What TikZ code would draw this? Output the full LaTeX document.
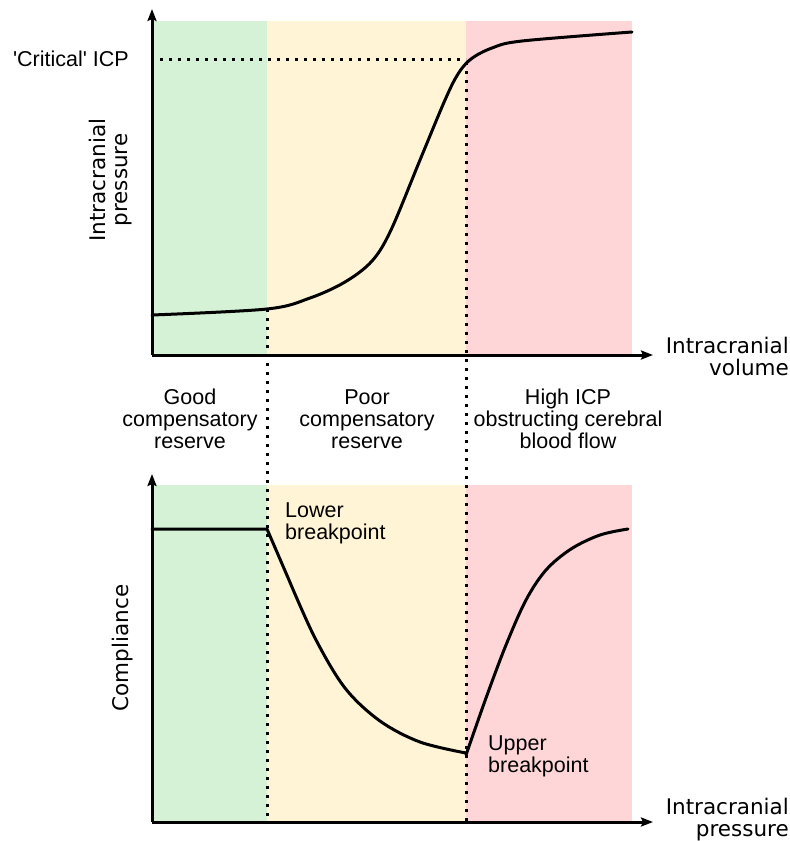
\documentclass[tikz,border=0pt]{standalone}
\usepackage{fontspec}
\setmainfont{Liberation Sans}
\newfontfamily\axfont{DejaVu Sans}
\usetikzlibrary{arrows.meta}
\definecolor{zgreen}{RGB}{214,242,214}
\definecolor{zyellow}{RGB}{255,245,214}
\definecolor{zred}{RGB}{255,214,216}
\tikzset{
  axis/.style={line width=3pt,-{Stealth[length=12pt,width=9pt,inset=2pt]}},
  curve/.style={line width=3pt,line join=round,line cap=round},
  dotline/.style={line width=3pt,dash pattern=on 3pt off 6pt},
  lbl/.style={font=\fontsize{21.5}{22}\selectfont,align=center,inner sep=0pt},
  axlbl/.style={font=\axfont\fontsize{21.5}{22}\selectfont,align=center,inner sep=0pt},
}
\begin{document}
\begin{tikzpicture}[x=1pt,y=-1pt]
\useasboundingbox (0,0) rectangle (790,841);
% top chart backgrounds
\fill[zgreen] (152,21) rectangle (267,355);
\fill[zyellow] (267,21) rectangle (466,355);
\fill[zred] (466,21) rectangle (632,355);
% bottom chart backgrounds
\fill[zgreen] (152,485) rectangle (267,822);
\fill[zyellow] (267,485) rectangle (466,822);
\fill[zred] (466,485) rectangle (632,822);
% coordinates
\coordinate (o1) at (152,355);
\coordinate (y1) at (152,9);
\coordinate (x1) at (653,355);
\coordinate (o2) at (152,822);
\coordinate (y2) at (152,474);
\coordinate (x2) at (653,822);
\coordinate (crit0) at (160,59);
\coordinate (crit1) at (466,59);
\coordinate (lbA) at (267,309);
\coordinate (lbB) at (267,822);
\coordinate (ubA) at (466,62);
\coordinate (ubB) at (466,822);
% dotted lines
\draw[dotline] (crit0) -- (crit1);
\draw[dotline] (lbA) -- (lbB);
\draw[dotline] (ubA) -- (ubB);
% top curve
\draw[curve] plot[smooth,tension=0.55] coordinates {(152,315) (267,309) (310,298) (345,282) (372,261) (391,230) (420,160) (445,100) (458,74) (471,59) (492,48) (522,41) (632,32)};
% bottom curve
\draw[curve] (152,529) -- (267,529) -- (289,580) plot[smooth,tension=0.55] coordinates {(289,580) (315,638) (345,688) (380,721) (420,742) (466,753)};
\draw[curve] plot[smooth,tension=0.55] coordinates {(466,755) (486,698) (506,645) (526,600) (546,570) (571,549) (600,535) (628,529)};
% axes
\draw[axis] (o1) -- (y1);
\draw[axis] (o1) -- (x1);
\draw[axis] (o2) -- (y2);
\draw[axis] (o2) -- (x2);
% labels
\node[lbl,anchor=east] (crit) at (129,59) {\textquotesingle Critical\textquotesingle{} ICP};
\node[axlbl,align=right,anchor=east] (xl1) at (789,356) {Intracranial\\volume};
\node[axlbl,align=right,anchor=east] (xl2) at (789,820) {Intracranial\\pressure};
\node[axlbl,rotate=90] (yl1) at (111,180) {Intracranial\\pressure};
\node[axlbl,rotate=90] (yl2) at (123,648) {Compliance};
\node[lbl] (good) at (190,419) {Good\\compensatory\\reserve};
\node[lbl] (poor) at (367,419) {Poor\\compensatory\\reserve};
\node[lbl] (high) at (568,419) {High ICP\\obstructing cerebral\\blood flow};
\node[lbl,align=left,anchor=west] (lower) at (285,523) {Lower\\breakpoint};
\node[lbl,align=left,anchor=west] (upper) at (488,756) {Upper\\breakpoint};
\end{tikzpicture}
\end{document}
